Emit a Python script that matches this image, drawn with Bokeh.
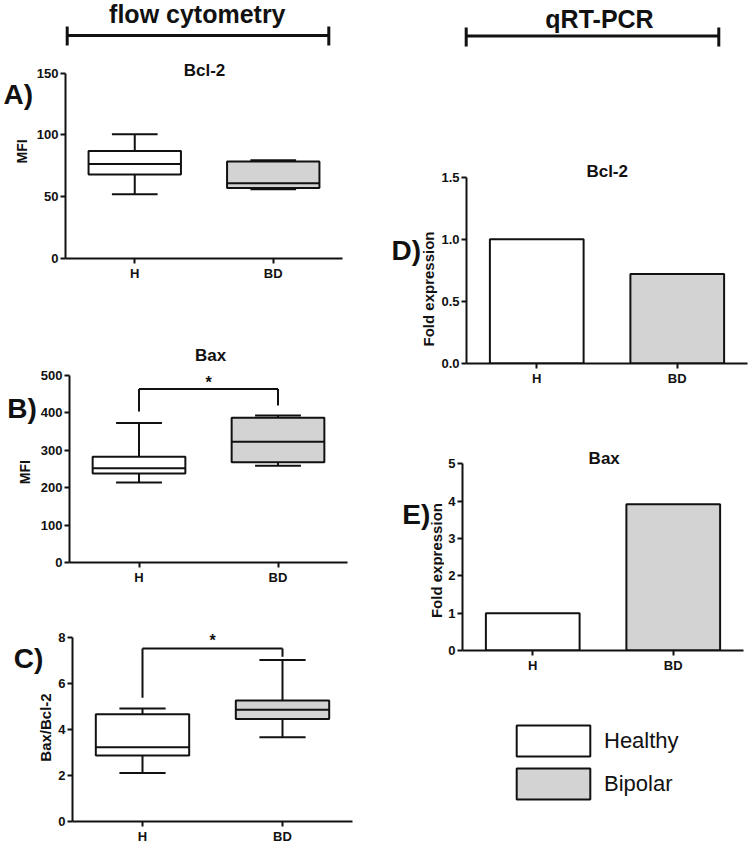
import math
from bokeh.plotting import figure
from bokeh.models import Range1d, FixedTicker, Label, Legend, LegendItem, PrintfTickFormatter
from bokeh.layouts import column, row
from bokeh.embed import file_html
from bokeh.resources import INLINE
from bokeh.core.properties import value

# ---------------- data ----------------
categories = ["H", "BD"]
group_labels = ["Healthy", "Bipolar"]

# A) Bcl-2 MFI (flow cytometry): box statistics per group
bcl2_mfi_min = [52.0, 56.0]
bcl2_mfi_q1 = [68.0, 57.0]
bcl2_mfi_med = [76.5, 61.0]
bcl2_mfi_q3 = [87.0, 78.5]
bcl2_mfi_max = [100.5, 79.5]
bcl2_mfi_ticks = [0, 50, 100, 150]

# B) Bax MFI
bax_mfi_min = [214.0, 259.0]
bax_mfi_q1 = [238.0, 268.0]
bax_mfi_med = [252.0, 323.0]
bax_mfi_q3 = [283.0, 387.0]
bax_mfi_max = [373.0, 393.0]
bax_mfi_ticks = [0, 100, 200, 300, 400, 500]
bax_sig = [464.0, 404.0, 420.0]   # bracket top, left leg end, right leg end
bax_star = 481.0

# C) Bax/Bcl-2 ratio
ratio_min = [2.11, 3.66]
ratio_q1 = [2.87, 4.46]
ratio_med = [3.23, 4.86]
ratio_q3 = [4.67, 5.26]
ratio_max = [4.92, 7.02]
ratio_ticks = [0, 2, 4, 6, 8]
ratio_sig = [7.53, 5.38, 7.17]
ratio_star = 7.88

# D) Bcl-2 fold expression (qRT-PCR)
bcl2_fold = [1.0, 0.72]
bcl2_fold_ticks = [0.0, 0.5, 1.0, 1.5]

# E) Bax fold expression (qRT-PCR)
bax_fold = [1.0, 3.92]
bax_fold_ticks = [0, 1, 2, 3, 4, 5]

# ---------------- styles ----------------
FONT = "Liberation Sans"
INK = "#111111"
FILLS = ["#ffffff", "#d3d3d3"]
BOX_W = 0.667
CAP_W = 0.33
xpos = [i + 0.5 for i in range(len(categories))]


def blank(width, height, **kw):
    p = figure(width=width, height=height, x_range=Range1d(0, width), y_range=Range1d(height, 0),
               output_backend="svg", toolbar_location=None, title=None, min_border=0,
               x_axis_location=None, y_axis_location=None, **kw)
    p.outline_line_color = None
    p.grid.visible = False
    return p


def strip(width, height, letter, lx, ly, ylabel, yx, yy, ysize):
    s = blank(width, height)
    s.text(x=[lx], y=[ly], text=[letter], text_font=value(FONT), text_font_size="28px",
           text_font_style="bold", text_align="left", text_baseline="middle", text_color=INK)
    s.text(x=[yx], y=[yy], text=[ylabel], angle=math.pi / 2, text_font=value(FONT),
           text_font_size=ysize, text_font_style="bold", text_align="center",
           text_baseline="middle", text_color=INK)
    return s


def panel(spec, ymax, yticks, fmt=None):
    col_left, col_w, row_top, row_h, strip_w, fl, fr, ft_ext, ft_tick, fb = spec
    width = col_w - strip_w
    left = fl - col_left - strip_w
    right = col_left + col_w - fr
    top = ft_ext - row_top
    bottom = row_top + row_h - fb
    y_end = ymax * (fb - ft_ext) / (fb - ft_tick)
    p = figure(width=width, height=row_h, x_range=Range1d(0, 2), y_range=Range1d(0, y_end),
               output_backend="svg", toolbar_location=None, title=None,
               min_border_left=left, min_border_right=right,
               min_border_top=top, min_border_bottom=bottom)
    p.outline_line_color = None
    p.grid.visible = False
    for ax in (p.xaxis[0], p.yaxis[0]):
        ax.axis_line_width = 2
        ax.axis_line_color = INK
        ax.major_tick_line_width = 2
        ax.major_tick_line_color = INK
        ax.major_tick_in = 0
        ax.major_tick_out = 5
        ax.minor_tick_line_color = None
        ax.major_label_text_font = FONT
        ax.major_label_text_font_size = "13px"
        ax.major_label_text_font_style = "bold"
        ax.major_label_text_color = INK
    p.xaxis.ticker = FixedTicker(ticks=xpos)
    p.xaxis.major_label_overrides = {x: c for x, c in zip(xpos, categories)}
    p.xaxis.major_label_standoff = 2
    p.yaxis.ticker = FixedTicker(ticks=yticks)
    p.yaxis.bounds = (0, ymax)
    p.yaxis.major_label_standoff = 2
    if fmt:
        p.yaxis.formatter = PrintfTickFormatter(format=fmt)
    return p


def title(p, spec, cx, cy, text):
    fl, fb = spec[5], spec[9]
    p.add_layout(Label(x=cx - fl, y=fb - cy, x_units="screen", y_units="screen", text=text,
                       text_font=FONT, text_font_size="17px", text_font_style="bold",
                       text_align="center", text_baseline="middle", text_color=INK))


def boxes(p, mn, q1, md, q3, mx):
    p.segment(x0=xpos, y0=q3, x1=xpos, y1=mx, line_color=INK, line_width=2)
    p.segment(x0=xpos, y0=mn, x1=xpos, y1=q1, line_color=INK, line_width=2)
    p.segment(x0=[x - CAP_W / 2 for x in xpos], y0=mx, x1=[x + CAP_W / 2 for x in xpos], y1=mx,
              line_color=INK, line_width=2)
    p.segment(x0=[x - CAP_W / 2 for x in xpos], y0=mn, x1=[x + CAP_W / 2 for x in xpos], y1=mn,
              line_color=INK, line_width=2)
    p.vbar(x=xpos, bottom=q1, top=q3, width=BOX_W, fill_color=FILLS, line_color=INK, line_width=2)
    p.segment(x0=[x - BOX_W / 2 for x in xpos], y0=md, x1=[x + BOX_W / 2 for x in xpos], y1=md,
              line_color=INK, line_width=2)


def sig(p, s, star_y):
    top, l_end, r_end = s
    p.segment(x0=[xpos[0], xpos[0], xpos[1]], y0=[top, top, top],
              x1=[xpos[1], xpos[0], xpos[1]], y1=[top, l_end, r_end], line_color=INK, line_width=2)
    p.text(x=[sum(xpos) / 2], y=[star_y], text=["*"], text_font=value(FONT), text_font_size="16px",
           text_font_style="bold", text_align="center", text_baseline="middle", text_color=INK)


# ---------------- header ----------------
hdr = blank(750, 55)
hdr.text(x=[196.8, 599.0], y=[13.5, 18.5], text=["flow cytometry", "qRT-PCR"], text_font=value(FONT),
         text_font_size="25px", text_font_style="bold", text_align="center",
         text_baseline="middle", text_color=INK)
hdr.segment(x0=[66.7, 66.7, 328.3, 465.7, 465.7, 718.3], y0=[35, 26, 26, 35.5, 27, 27],
            x1=[328.3, 66.7, 328.3, 718.3, 465.7, 718.3], y1=[35, 45, 45, 35.5, 46, 46],
            line_color=INK, line_width=3)

# panel geometry: col_left, col_w, row_top, row_h, strip_w, frame L, R, top(ext), top(tick), bottom
SA = (0, 388, 55, 233, 33, 64, 342, 55, 72.7, 258)
SB = (0, 388, 288, 302, 37, 67, 347, 338, 375, 562)
SC = (0, 388, 590, 256, 54, 72, 352, 615, 637.3, 823)
SD = (388, 362, 55, 335, 50, 466, 747, 155, 176.7, 363)
SE = (388, 362, 390, 290, 56, 462, 743, 440, 463.3, 650)

# ---------------- A ----------------
pA = panel(SA, 150, bcl2_mfi_ticks)
boxes(pA, bcl2_mfi_min, bcl2_mfi_q1, bcl2_mfi_med, bcl2_mfi_q3, bcl2_mfi_max)
title(pA, SA, 203, 69.5, "Bcl-2")
sA = strip(33, 233, "A)", 3, 100 - 55, "MFI", 21.7, 165 - 55, "14px")

# ---------------- B ----------------
pB = panel(SB, 500, bax_mfi_ticks)
boxes(pB, bax_mfi_min, bax_mfi_q1, bax_mfi_med, bax_mfi_q3, bax_mfi_max)
sig(pB, bax_sig, bax_star)
title(pB, SB, 208, 354.5, "Bax")
sB = strip(37, 302, "B)", 6.7, 383 - 288, "MFI", 24.2, 468.3 - 288, "14px")

# ---------------- C ----------------
pC = panel(SC, 8, ratio_ticks)
boxes(pC, ratio_min, ratio_q1, ratio_med, ratio_q3, ratio_max)
sig(pC, ratio_sig, ratio_star)
sC = strip(54, 256, "C)", 13.3, 643.3 - 590, "Bax/Bcl-2", 44.7, 729.2 - 590, "15px")

# ---------------- D ----------------
pD = panel(SD, 1.5, bcl2_fold_ticks, fmt="%.1f")
pD.vbar(x=xpos, bottom=0, top=bcl2_fold, width=BOX_W, fill_color=FILLS, line_color=INK, line_width=2)
title(pD, SD, 606.7, 171, "Bcl-2")
sD = strip(50, 335, "D)", 3, 207.5 - 55, "Fold expression", 40.3, 270 - 55, "15px")

# ---------------- E ----------------
pE = panel(SE, 5, bax_fold_ticks)
pE.vbar(x=xpos, bottom=0, top=bax_fold, width=BOX_W, fill_color=FILLS, line_color=INK, line_width=2)
title(pE, SE, 603.7, 458.3, "Bax")
sE = strip(56, 290, "E)", 13.7, 492.5 - 390, "Fold expression", 47.8, 555.8 - 390, "15px")

# ---------------- legend ----------------
pL = figure(width=362, height=166, x_range=Range1d(0, 1), y_range=Range1d(0, 1),
            output_backend="svg", toolbar_location=None, title=None,
            min_border_left=119, min_border_top=41, min_border_right=0, min_border_bottom=0,
            x_axis_location=None, y_axis_location=None)
pL.outline_line_color = None
pL.grid.visible = False
items = []
for name, col in zip(group_labels, FILLS):
    r = pL.vbar(x=[0.5], top=[1.0], width=0.5, fill_color=col, line_color=INK, line_width=2)
    r.visible = False
    items.append(LegendItem(label=name, renderers=[r]))
leg = Legend(items=items, location="top_left", glyph_width=92, glyph_height=39, label_standoff=5,
             spacing=4, padding=0, margin=0, border_line_color=None, background_fill_alpha=0,
             inactive_fill_alpha=0, label_text_font=FONT, label_text_font_size="22px",
             label_text_color=INK)
pL.add_layout(leg)

left_col = column(row(sA, pA), row(sB, pB), row(sC, pC))
right_col = column(row(sD, pD), row(sE, pE), pL)
layout = column(hdr, row(left_col, right_col))
open("out.html", "w").write(file_html(layout, INLINE))
